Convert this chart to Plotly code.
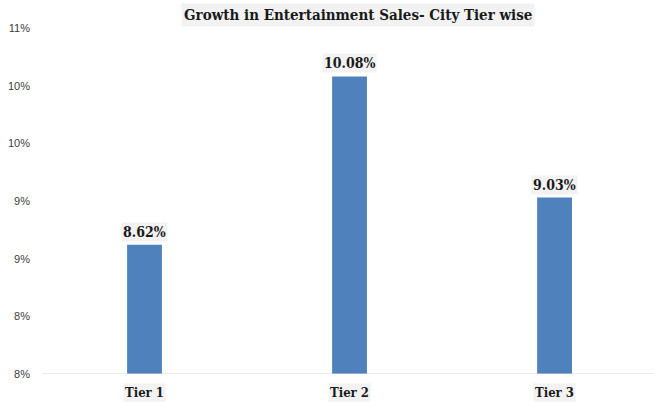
import plotly.graph_objects as go

# Chart data
categories = ["Tier 1", "Tier 2", "Tier 3"]
growth = [8.62, 10.08, 9.03]
tick_values = [7.5, 8.0, 8.5, 9.0, 9.5, 10.0, 10.5]
tick_labels = ["8%", "8%", "9%", "9%", "10%", "10%", "11%"]

title_text = "Growth in Entertainment Sales- City Tier wise"

BAR = "#4f81bd"
LABEL_BG = "#f2f2f2"
TEXT = "#1a1a1a"
SERIF = "DejaVu Serif Condensed, DejaVu Serif, serif"

x_pos = list(range(len(categories)))

fig = go.Figure()
fig.add_trace(go.Bar(
    x=x_pos, y=growth, width=0.17,
    marker=dict(color=BAR, line=dict(width=0)),
    hoverinfo="skip",
))

# value labels above bars
for xi, v in zip(x_pos, growth):
    fig.add_annotation(
        x=xi, y=v, xref="x", yref="y", text=f"<b>{v:.2f}%</b>",
        showarrow=False, yanchor="bottom", yshift=3,
        font=dict(family=SERIF, size=14, color=TEXT),
        bgcolor=LABEL_BG, borderpad=1,
    )

# category labels below the axis
for xi, c in zip(x_pos, categories):
    fig.add_annotation(
        x=xi, y=0, xref="x", yref="paper", text=f"<b>{c}</b>",
        showarrow=False, yanchor="top", yshift=-9,
        font=dict(family=SERIF, size=13, color=TEXT),
        bgcolor=LABEL_BG, borderpad=1,
    )

# chart title
fig.add_annotation(
    x=0.516, y=1.0, xref="paper", yref="paper", yanchor="bottom", yshift=1,
    text=f"<b>{title_text}</b>", showarrow=False,
    font=dict(family=SERIF, size=15, color=TEXT),
    bgcolor=LABEL_BG, borderpad=2,
)

fig.update_layout(
    width=654, height=402,
    margin=dict(l=42, r=0, t=28, b=28),
    plot_bgcolor="white", paper_bgcolor="white",
    showlegend=False,
    xaxis=dict(range=[-0.5, 2.485], showticklabels=False, showgrid=False,
               zeroline=False, showline=False, ticks=""),
    yaxis=dict(range=[7.5, 10.5], tickvals=tick_values, ticktext=tick_labels,
               showgrid=False, zeroline=False, showline=False, ticks="",
               tickfont=dict(family="Liberation Sans, Arial, sans-serif", size=11, color="#404040"),
               ticklabelstandoff=11),
    shapes=[dict(type="line", xref="paper", yref="y", x0=0, x1=1, y0=7.5, y1=7.5,
                 line=dict(color="#d9d9d9", width=1))],
)

fig.write_html("out.html")
